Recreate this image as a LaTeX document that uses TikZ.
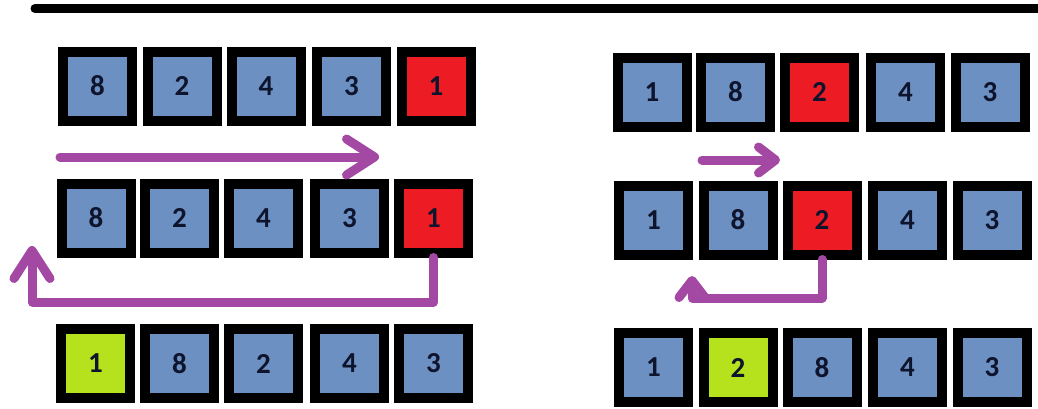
\documentclass[tikz,border=0pt]{standalone}
\usepackage{fontspec}
\setmainfont{Carlito}
\usetikzlibrary{arrows.meta}
\definecolor{cellblue}{RGB}{108,144,194}
\definecolor{cellred}{RGB}{237,28,36}
\definecolor{cellgreen}{RGB}{181,226,29}
\definecolor{arrpurple}{RGB}{163,73,164}
\definecolor{digit}{RGB}{15,20,45}
\tikzset{
  cell/.style={draw=black, line width=10pt, minimum size=69pt, inner sep=0pt,
    font=\fontsize{29pt}{29pt}\selectfont\bfseries, text=digit},
  bcell/.style={cell, fill=cellblue},
  rcell/.style={cell, fill=cellred},
  gcell/.style={cell, fill=cellgreen},
  arr/.style={draw=arrpurple, line width=9pt, line cap=round, line join=round},
  bighead/.style={arr, -{Straight Barb[length=28pt, width=36pt, line cap=round, line join=round]}},
  smallhead/.style={arr, -{Straight Barb[length=17pt, width=26pt, line cap=round, line join=round]}}
}
\begin{document}
\begin{tikzpicture}[x=1pt, y=-1pt]
\useasboundingbox (0,0) rectangle (1038,408);
\fill[white] (0,0) rectangle (1038,408);
% top rule
\coordinate (ruleL) at (35,8.5);
\coordinate (ruleR) at (1045,8.5);
\draw[line width=9pt, line cap=round] (ruleL) -- (ruleR);

% left, row 1
\node[bcell] (L1a) at (97.5,86) {8};
\node[bcell] (L1b) at (182,86) {2};
\node[bcell] (L1c) at (266,86) {4};
\node[bcell] (L1d) at (351.5,86) {3};
\node[rcell] (L1e) at (436,86) {1};
% left, row 2
\node[bcell] (L2a) at (96,218) {8};
\node[bcell] (L2b) at (179.5,218) {2};
\node[bcell] (L2c) at (263.5,218) {4};
\node[bcell] (L2d) at (349.5,218) {3};
\node[rcell] (L2e) at (433.5,218) {1};
% left, row 3
\node[gcell] (L3a) at (95.5,363.5) {1};
\node[bcell] (L3b) at (179.5,363.5) {8};
\node[bcell] (L3c) at (263.5,363.5) {2};
\node[bcell] (L3d) at (349.5,363.5) {4};
\node[bcell] (L3e) at (433.5,363.5) {3};

% right, row 1
\node[bcell] (R1a) at (652,92) {1};
\node[bcell] (R1b) at (735.5,92) {8};
\node[rcell] (R1c) at (819.5,92) {2};
\node[bcell] (R1d) at (905.5,92) {4};
\node[bcell] (R1e) at (990,92) {3};
% right, row 2
\node[bcell] (R2a) at (653.5,220) {1};
\node[bcell] (R2b) at (738,220) {8};
\node[rcell] (R2c) at (822,220) {2};
\node[bcell] (R2d) at (907.5,220) {4};
\node[bcell] (R2e) at (992,220) {3};
% right, row 3
\node[bcell] (R3a) at (653.5,367.5) {1};
\node[gcell] (R3b) at (738,367.5) {2};
\node[bcell] (R3c) at (822,367.5) {8};
\node[bcell] (R3d) at (907.5,367.5) {4};
\node[bcell] (R3e) at (992,367.5) {3};

% left arrows
\coordinate (la1s) at (60,157);
\coordinate (la1e) at (379,157);
\draw[bighead] (la1s) -- (la1e);
\coordinate (la2e) at (32,246);
\draw[bighead] (L2e.south) -- (L2e.south |- 0,302) -| (la2e);

% right arrows
\coordinate (ra1s) at (702,160);
\coordinate (ra1e) at (780,160);
\draw[smallhead] (ra1s) -- (ra1e);
\coordinate (ra2e) at (692,276);
\draw[smallhead] (R2c.south) -- (R2c.south |- 0,298) -| (ra2e);
\end{tikzpicture}
\end{document}
